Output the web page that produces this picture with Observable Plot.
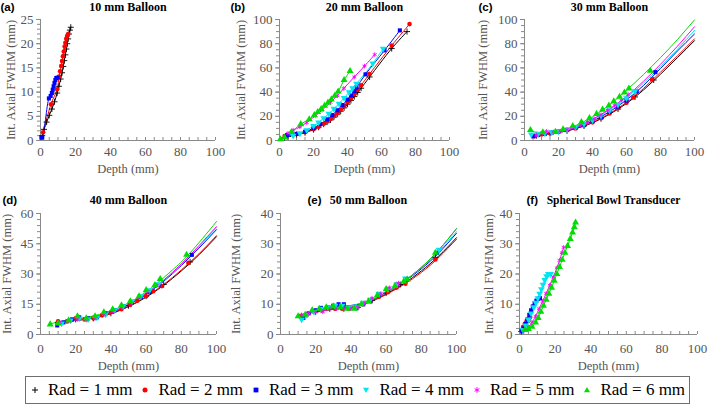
<!DOCTYPE html>
<html><head><meta charset="utf-8">
<script src="https://cdn.jsdelivr.net/npm/d3@7"></script>
<script src="https://cdn.jsdelivr.net/npm/@observablehq/plot@0.6"></script>
<style>
body{margin:0;background:#fff;}
#fig{position:relative;width:709px;height:406px;overflow:hidden;background:#fff;}
#fig .panel{position:absolute;}
#legend{position:absolute;left:25px;top:376px;width:663px;height:26px;border:1px solid #6e6e6e;display:flex;align-items:center;justify-content:space-around;font-family:"Liberation Serif","Times New Roman",serif;font-size:17px;color:#000;}
#legend .item{display:flex;align-items:center;gap:8px;white-space:nowrap;}
</style></head><body><div id="fig"></div>
<script>
// ---------- series ----------
const radLabels = ["Rad = 1 mm","Rad = 2 mm","Rad = 3 mm","Rad = 4 mm","Rad = 5 mm","Rad = 6 mm"];
const radColors = ["#000000","#ff0000","#0000ff","#00e5f0","#ff00ff","#00dd00"];

// ---------- (a) 10 mm Balloon : [depth, FWHM] ----------
const a1 = [[1,1],[2,2.3],[3.5,3.8],[5,5.2],[6.5,6.5],[8,8],[9.5,9.8],[10.5,11.2],[11.5,12.7],[12.3,14],[13,15.3],[13.6,16.5],[14.2,17.7],[14.8,18.9],[15.3,20],[15.8,21],[16.3,22],[16.8,22.8],[17.3,23.4]];
const a2 = [[1.5,1.7],[6,7.5],[9.5,10.6],[10.6,13.2],[11.2,14.3],[11.8,15.4],[12.3,16.4],[12.8,17.4],[13.3,18.4],[13.8,19.4],[14.2,20.2],[14.7,21],[15.2,21.6],[15.8,22]];
const a3 = [[0.5,0.6],[1,0.6],[4.8,8.7],[5.8,9.2],[6.5,9.8],[7,10.5],[7.5,11.2],[8,11.9],[8.5,12.5],[9,12.9],[9.7,13]];

// ---------- (b) 20 mm Balloon ----------
const b1 = [[3,2.5],[5,3.3],[10,5],[15,6.5],[20,9],[23,11],[26,13.5],[28,15.2],[30,17],[32,19.3],[34,21.7],[36,24.2],[38,27],[40,30],[42,33],[44,36.3],[46,39.7],[48,43.2],[53,52.5],[66,76],[75,90]];
const b2 = [[3,3.7],[5,4.3],[10,5.2],[15,6.8],[20,9.3],[23,11.3],[26,13.8],[28,15.7],[30,17.7],[32,20],[34,22.6],[36,25.4],[38,28.3],[40,31.4],[42,34.7],[44,38.2],[46,41.8],[48,45.7],[53,55],[66,78.5],[76.5,96.2]];
const b3 = [[4.5,4.5],[10,5.4],[15,7.2],[20,10.2],[24,13.5],[28,17.5],[31,21],[34,25],[37,29.3],[40,33.8],[42,37.2],[44,40.8],[45.3,43.8],[50.6,54.7],[61.8,74.5],[70.8,91]];
const b4 = [[8,4],[12,6],[16,8.6],[20,12],[23,15],[26,18.5],[29,22.2],[32,26.2],[35,30.5],[38,35.2],[41,40],[43,43.3],[45.3,47],[54.9,63.7],[61,75.9]];
const b5 = [[5,6],[8,8.5],[12,11.2],[16,14.8],[21,20.3],[25,25],[30,31.5],[34,37],[37.8,43],[44,52.5],[50,61.5],[56,71]];
const b6 = [[0.5,1],[3,2.5],[7,7],[12.5,13.5],[17.5,17.6],[20.5,21],[22.5,23.5],[24.5,26],[26.5,28.7],[28.5,31.3],[30.5,34],[32.5,37],[34.5,40.5],[38,50],[41.5,57.5]];

// ---------- (c) 30 mm Balloon ----------
const c1 = [[7,4],[15,5.8],[25,8],[35,12],[45,18],[55,26],[65,36],[76,50]];
const c2 = [[6,3.6],[10,5],[15,6],[20,7],[25,8.4],[30,10],[35,12.4],[40,15],[45,18.4],[50,22.3],[55,26.6],[60,31.2],[64,35.5],[75,50.5]];
const c3 = [[5,3.5],[8,4.5],[12,5.5],[16,6.5],[20,7.4],[25,8.8],[30,10.5],[35,13],[40,16],[45,19.5],[50,23.5],[55,28],[60,33],[66,40.5],[77,56.5]];
const c4 = [[4,5],[8,5.2],[12,6],[16,6.8],[20,7.6],[25,9],[30,11],[35,13.7],[40,16.8],[45,20.5],[50,24.8],[55,29.6],[60,35],[65,40.8]];
const c5 = [[7,4.5],[10.5,6.5],[13,7.6],[17,7],[21,7.8],[25,9],[29,10.8],[33,13],[37,15.3],[41,18],[45,21.3],[49,25],[53,29],[57,33.3],[61,38]];
const c6 = [[3.5,8.7],[10.8,6.8],[18.2,7.2],[22.7,9.3],[28.4,12],[33.5,15.2],[38.2,18.5],[42.4,22],[45.9,25.5],[49.6,28.8],[52.5,32.3],[55.9,36.1],[58.8,39.6],[61.4,42.9],[74,57.7]];
const c1Fit = [[7,4],[20,6.6],[30,9.7],[40,14.6],[50,21.7],[60,30.6],[70,41.8],[80,54.8],[90,68.5],[100,82.5]];
const c2Fit = [[6,4],[20,7],[30,10],[40,15],[50,22.3],[60,31.5],[70,43],[80,56.5],[90,70],[100,84]];
const c3Fit = [[5,4],[20,7.2],[30,10.6],[40,16],[50,23.8],[60,33.5],[70,45.5],[80,59.5],[90,74],[100,88]];
const c4Fit = [[4,5.3],[20,7.2],[30,11],[40,17],[50,25.3],[60,35.5],[70,47.5],[80,61],[90,75.5],[100,91]];
const c5Fit = [[7,5.5],[20,7.2],[30,11.2],[40,17.5],[50,26],[60,36.5],[70,49],[80,63],[90,78],[100,94]];
const c6Fit = [[3.5,7.8],[10,6.6],[20,7.8],[30,12.3],[40,19.6],[50,29.5],[60,41.5],[70,54.5],[80,68.5],[90,83.5],[100,99.7]];

// ---------- (d) 40 mm Balloon ----------
const d1 = [[10,6],[20,7.5],[30,8],[40,10.5],[50,14.3],[60,19],[70,24.8],[85,36]];
const d2 = [[10,6.5],[15,6.5],[20,8],[25,7.5],[30,8],[35,9.5],[40,11],[46,12.5],[51,14.7],[55,16.7],[60,19],[64,21.5],[69,24],[84,35.5]];
const d3s = [[9.5,4.5],[13,6],[18,7.5],[22,8.5],[27,8],[32,8.5],[37,10.5],[42,12],[47,14],[52,16],[57,18.5],[62,21],[67,24.5],[86,39.5]];
const d4 = [[12,5.5],[17,7],[22,8],[27,7.6],[32,8.5],[37,10],[42,12],[47,14],[52,16.5],[57,19],[62,22],[67,25]];
const d5 = [[11,6],[16,6.6],[21,7.5],[26,7.2],[31,8],[36,9.8],[41,11.5],[46,13.5],[51,15.8],[56,18.5],[61,21.3],[66,24.3]];
const d6 = [[5.5,5],[10,5.5],[16,7],[21,9],[26,8],[31,9],[36,11],[41,12.5],[46,14.5],[51,16.5],[56,19],[60,22],[65,24.5],[68,27.5],[83,39.5]];
const d1Fit = [[10,6],[20,7],[30,8.1],[40,10.3],[50,13.8],[60,18.5],[70,24.4],[80,31.5],[90,39.5],[100,48.5]];
const d2Fit = [[10,6],[20,7],[30,8.2],[40,10.4],[50,14],[60,18.8],[70,24.8],[80,32],[90,40],[100,49]];
const d3Fit = [[9.5,5.5],[20,7],[30,8.3],[40,10.8],[50,14.7],[60,20],[70,26.4],[80,34.2],[90,42.8],[100,52]];
const d4Fit = [[12,6],[20,7.1],[30,8.4],[40,11],[50,15],[60,20.4],[70,26.8],[80,34.7],[90,43.5],[100,53]];
const d5Fit = [[11,6.2],[20,7.2],[30,8.5],[40,11],[50,15],[60,20.5],[70,27],[80,35],[90,44],[100,53.5]];
const d6Fit = [[5.5,5.3],[15,7],[25,8.3],[35,10.3],[45,13.5],[55,18.2],[65,24.5],[75,32],[85,40.5],[100,56]];

// ---------- (e) 50 mm Balloon ----------
const e1 = [[12,6],[20,7.5],[28,8.5],[36,8.5],[44,9],[52,11.3],[60,13.7],[68,16.5],[88,25.5]];
const e2 = [[11,6],[15,6.5],[19,7.5],[23,8],[27,8.5],[31,8.5],[35,8.5],[39,8.5],[43,9],[47,10],[51,11],[56,12.5],[61,14],[66,15.5],[71,16.8],[88,24.8]];
const e3 = [[13,5.5],[16,7],[20,8],[23,8.8],[27,9],[30,9.5],[33,10],[36,10],[39,9],[43,8.8],[47,10],[51,11],[56,13],[61,15],[66,16.5],[71,18],[89,27]];
const e4 = [[12,5],[15,6.5],[19,7.5],[23,8.5],[27,9],[31,9.5],[35,9.5],[39,9],[43,9],[47,10.5],[51,11.5],[56,13.5],[61,15],[66,16.5],[71,18.5],[90,28]];
const e5 = [[12,6.5],[16,7],[20,7.5],[24,7.5],[28,8.5],[32,8.5],[36,8.5],[40,8.5],[44,9],[48,10.5],[52,12],[57,13.5],[62,15.5],[67,17],[72,18.5]];
const e6 = [[10,6],[14,6.5],[18,8],[22,8.5],[26,9],[30,9.3],[34,9],[38,8.5],[42,8.5],[46,10],[50,11],[55,13],[60,15],[65,16],[70,17.5],[72,18.2],[88,27]];
const e1Fit = [[12,6.2],[20,7.6],[30,8.5],[40,9],[50,10.7],[60,13.4],[70,16.8],[80,21],[90,26],[100,32]];
const e2Fit = [[11,6.2],[20,7.6],[30,8.4],[40,8.9],[50,10.5],[60,13.2],[70,16.5],[80,20.5],[90,25.5],[100,31.5]];
const e3Fit = [[13,6.3],[20,8],[30,9.2],[40,9.6],[50,11.1],[60,13.9],[70,17.4],[80,21.7],[90,27],[100,33.5]];
const e4Fit = [[12,6],[20,7.8],[30,8.9],[40,9.5],[50,11.2],[60,14],[70,17.6],[80,22],[90,27.5],[100,34]];
const e5Fit = [[12,6.6],[20,7.4],[30,8.3],[40,9],[50,10.8],[60,13.7],[70,17.5],[80,22.2],[90,28],[100,35]];
const e6Fit = [[10,6.2],[20,7.8],[30,8.7],[40,9.3],[50,11],[60,13.8],[70,17.5],[80,22.2],[90,28],[100,35]];

// ---------- (f) Spherical Bowl Transducer ----------
const f1 = [[1,1],[2,2],[3,3],[4,4],[5,4.8]];
const f2 = [[1,1.5],[2,2.5],[3,3.5],[4,4.5],[5,5.3],[6,5.8]];
const f3 = [[1.5,1],[2.5,2],[3.5,3.5],[4.5,5],[5.5,6.5],[6.5,8],[7.5,9.3],[8.5,10.4],[9.5,11.2],[10.5,11.8],[11.5,12]];
const f4 = [[2,1.5],[3.5,3],[5,5],[6.5,7],[8,9],[9.2,10.5],[10.3,12],[11.3,13.5],[12.3,15],[13.2,16.5],[14.2,18],[15.2,19.3],[16.2,20],[17.5,20]];
const f5 = [[3,1.5],[5,2.5],[7,4],[9,6],[11,8.5],[13,11],[15,13.6],[17,16.3],[19,19],[21,22],[22.5,24.5],[23.8,27],[24.8,28.8]];
const f6 = [[3,1.5],[5,1.8],[7,2.6],[9,4],[10.5,5.5],[12,7.5],[13.5,9.5],[15,11.5],[16.5,13.5],[18,15.5],[19.5,17.8],[21,20],[22.5,22.3],[24,24.7],[25.5,27],[27,29.3],[28.5,31.6],[29.8,33.7],[30.8,35.5],[31.5,37]];

// ---------- ticks ----------
const range = (a, b, s) => Array.from({length: Math.floor((b - a) / s) + 1}, (_, i) => a + i * s);
const xMajor = [0,20,40,60,80,100];
const xMinor = range(0, 100, 5);

const fig = document.getElementById("fig");
const AX = "#8a8a8a", TXT = "#555";
const SERIF = "Liberation Serif, Times New Roman, serif";

function dotMarks(data, i) {
  const c = radColors[i];
  const base = {x: d => d[0], y: d => d[1]};
  if (i === 0) return Plot.dot(data, {...base, symbol: "plus", stroke: c, r: 2.1, strokeWidth: 0.9});
  if (i === 1) return Plot.dot(data, {...base, symbol: "circle", fill: c, r: 2.3});
  if (i === 2) return Plot.dot(data, {...base, symbol: "square", fill: c, r: 2.3});
  if (i === 3) return Plot.dot(data, {...base, symbol: "triangle", fill: c, r: 2.5, rotate: 180});
  if (i === 4) return Plot.dot(data, {...base, symbol: "asterisk", stroke: c, r: 2.1, strokeWidth: 0.9});
  return Plot.dot(data, {...base, symbol: "triangle", fill: c, r: 2.6});
}

function panel(cfg) {
  const fw = cfg.w - cfg.ml - cfg.mr, fh = cfg.h - cfg.mt - cfg.mb;
  const marks = [];
  marks.push(Plot.tickX(xMinor, {x: d => d, insetTop: fh - 3, stroke: AX}));
  marks.push(Plot.tickY(cfg.yMinor, {y: d => d, insetLeft: -3, insetRight: fw, stroke: AX}));
  marks.push(Plot.tickY(cfg.yMajor, {y: d => d, insetLeft: -4, insetRight: fw, stroke: AX}));
  marks.push(Plot.ruleX([0], {stroke: AX}));
  marks.push(Plot.ruleY([cfg.yDomain[0]], {stroke: AX}));
  marks.push(Plot.text(xMajor, {x: d => d, frameAnchor: "bottom", dy: cfg.xTickDy, text: d => String(d), fill: TXT, fontSize: 13, lineAnchor: "middle"}));
  marks.push(Plot.text(cfg.yMajor, {y: d => d, frameAnchor: "left", dx: -7, text: d => String(d), fill: TXT, fontSize: 13, textAnchor: "end", lineAnchor: "middle"}));
  marks.push(Plot.text(["Depth (mm)"], {text: d => d, frameAnchor: "bottom", dy: cfg.xLabDy, fill: TXT, fontSize: 12.5, lineAnchor: "middle"}));
  marks.push(Plot.text(["Int. Axial FWHM (mm)"], {text: d => d, frameAnchor: "left", dx: -cfg.yLabOff, rotate: -90, fill: TXT, fontSize: 12.5, textAnchor: "middle", lineAnchor: "middle"}));
  marks.push(Plot.text([cfg.title], {text: d => d, frameAnchor: "top", dx: cfg.titleDx || 0, dy: cfg.titleDy, fill: "#000", fontSize: cfg.titleSize || 12, fontWeight: "bold", lineAnchor: "middle"}));
  marks.push(Plot.text([cfg.letter], {text: d => d, frameAnchor: "top-left", dx: cfg.letterX - cfg.left - cfg.ml, dy: cfg.titleDy, fill: "#000", fontFamily: "Liberation Sans, Arial, sans-serif", fontSize: 11.5, fontWeight: "bold", textAnchor: "start", lineAnchor: "middle"}));
  cfg.series.forEach((s, i) => {
    if (!s) return;
    const fit = cfg.fits ? cfg.fits[i] : null;
    marks.push(Plot.line(fit || s, {x: d => d[0], y: d => d[1], stroke: radColors[i], strokeWidth: 1, curve: fit ? "natural" : "catmull-rom"}));
  });
  cfg.series.forEach((s, i) => { if (s) marks.push(dotMarks(s, i)); });

  const svg = Plot.plot({
    width: cfg.w, height: cfg.h,
    marginLeft: cfg.ml, marginRight: cfg.mr, marginTop: cfg.mt, marginBottom: cfg.mb,
    x: {domain: [0, 100], axis: null},
    y: {domain: cfg.yDomain, axis: null},
    style: {background: "transparent", fontFamily: SERIF, fontSize: "13px", overflow: "visible"},
    marks
  });
  svg.classList.add("panel");
  svg.style.left = cfg.left + "px";
  svg.style.top = cfg.top + "px";
  fig.appendChild(svg);
}

const row1 = {top: 0, h: 182, mt: 19, mb: 42, xTickDy: 11, xLabDy: 28, titleDy: -12};
const row2 = {top: 182, h: 194, mt: 31, mb: 42, xTickDy: 14, xLabDy: 31, titleDy: -13};

panel({...row1, left: 0, w: 235, ml: 40, mr: 20, yDomain: [0, 25], yMajor: [0,5,10,15,20,25], yMinor: range(0,25,1),
  title: "10 mm Balloon", letter: "(a)", letterX: 0, yLabOff: 30, series: [a1, a2, a3, null, null, null]});
panel({...row1, left: 235, w: 230, ml: 44, mr: 16, yDomain: [0, 100], yMajor: [0,20,40,60,80,100], yMinor: range(0,100,5),
  title: "20 mm Balloon", letter: "(b)", letterX: 230, yLabOff: 39, series: [b1, b2, b3, b4, b5, b6]});
panel({...row1, left: 465, w: 244, ml: 59, mr: 15, yDomain: [0, 100], yMajor: [0,20,40,60,80,100], yMinor: range(0,100,5),
  title: "30 mm Balloon", letter: "(c)", letterX: 478, yLabOff: 42, series: [c1, c2, c3, c4, c5, c6], fits: [c1Fit, c2Fit, c3Fit, c4Fit, c5Fit, c6Fit]});
panel({...row2, left: 0, w: 235, ml: 40, mr: 19, yDomain: [0, 60], yMajor: [0,15,30,45,60], yMinor: range(0,60,3),
  title: "40 mm Balloon", letter: "(d)", letterX: 2, yLabOff: 34, series: [d1, d2, d3s, d4, d5, d6], fits: [d1Fit, d2Fit, d3Fit, d4Fit, d5Fit, d6Fit]});
panel({...row2, left: 235, w: 232, ml: 45, mr: 11, yDomain: [0, 40], yMajor: [0,10,20,30,40], yMinor: range(0,40,2),
  title: "50 mm Balloon", letter: "(e)", letterX: 307, yLabOff: 45, series: [e1, e2, e3, e4, e5, e6], fits: [e1Fit, e2Fit, e3Fit, e4Fit, e5Fit, e6Fit]});
panel({...row2, left: 467, w: 242, ml: 52, mr: 12, yDomain: [0, 40], yMajor: [0,10,20,30,40], yMinor: range(0,40,2),
  title: "Spherical Bowl Transducer", titleSize: 11.5, titleDx: 5, letter: "(f)", letterX: 526, yLabOff: 31, series: [f1, f2, f3, f4, f5, f6]});

// ---------- legend ----------
const legend = document.createElement("div");
legend.id = "legend";
const symPaths = [
  {d: "M-3,0H3M0,-3V3", stroke: true},
  {d: "M2.5,0A2.5,2.5,0,1,1,-2.5,0A2.5,2.5,0,1,1,2.5,0Z", stroke: false},
  {d: "M-2.4,-2.4H2.4V2.4H-2.4Z", stroke: false},
  {d: "M-3,-2.2L3,-2.2L0,3Z", stroke: false},
  {d: "M0,-2.8V2.8M-2.4,-1.4L2.4,1.4M-2.4,1.4L2.4,-1.4", stroke: true},
  {d: "M-3,2.2L3,2.2L0,-3Z", stroke: false}
];
radLabels.forEach((lab, i) => {
  const item = document.createElement("div");
  item.className = "item";
  const s = symPaths[i];
  const paint = s.stroke ? `fill="none" stroke="${radColors[i]}" stroke-width="1"` : `fill="${radColors[i]}"`;
  item.innerHTML = `<svg width="10" height="10" viewBox="-5 -5 10 10"><path d="${s.d}" ${paint}/></svg><span>${lab}</span>`;
  legend.appendChild(item);
});
fig.appendChild(legend);
</script></body></html>
